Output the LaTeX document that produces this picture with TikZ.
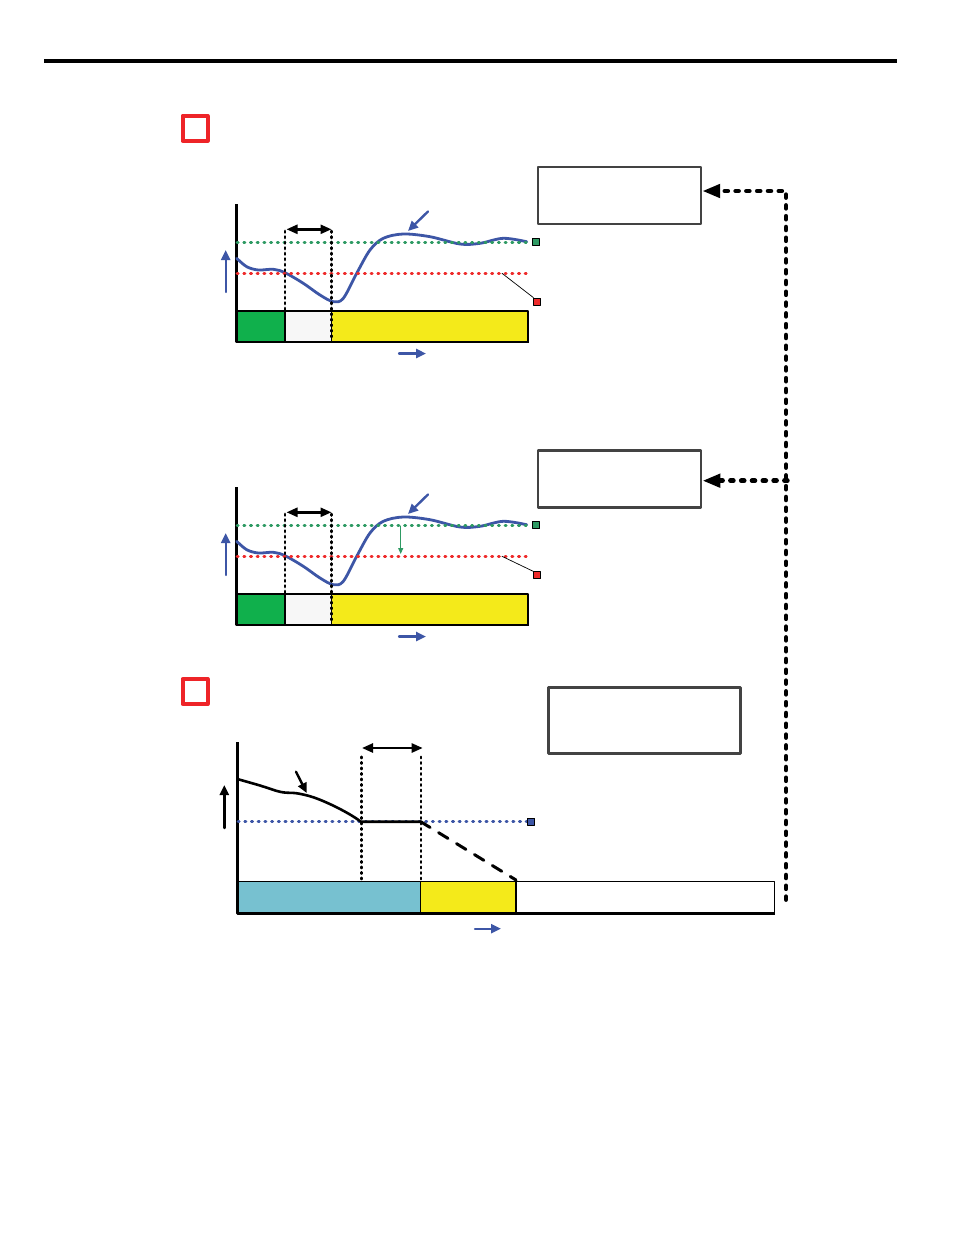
\documentclass[tikz,border=0pt]{standalone}
\usetikzlibrary{arrows.meta}
\definecolor{CurveBlue}{HTML}{3D56A6}
\definecolor{SetGreen}{HTML}{2E9A63}
\definecolor{LowRed}{HTML}{EE2B2B}
\definecolor{TagRed}{HTML}{EE2428}
\definecolor{BoxGray}{HTML}{434343}
\definecolor{BarGreen}{HTML}{10B04C}
\definecolor{BarYellow}{HTML}{F4EA1A}
\definecolor{BarCyan}{HTML}{77C1D0}
\definecolor{BarWhite}{HTML}{F7F7F7}

\begin{document}
\begin{tikzpicture}[x=1pt,y=-1pt,line cap=round,line join=round,
  infobox/.style={draw=BoxGray,line width=2.6pt,inner sep=0pt},
  redtag/.style={draw=TagRed,line width=4pt,minimum size=25pt,inner sep=0pt},
  marksq/.style={draw=black,line width=0.8pt,minimum size=7pt,inner sep=0pt},
  dotline/.style={line width=2.8pt,dash pattern=on 1.2pt off 5.5pt},
  guide/.style={line width=2.8pt,dash pattern=on 1.5pt off 4pt},
  feedback/.style={line width=4.8pt,dash pattern=on 2.8pt off 8pt},
  span/.style={line width=2.4pt,{Triangle[length=11pt,width=9pt]}-{Triangle[length=11pt,width=9pt]}},
  pointer/.style={line width=2.4pt,-{Triangle[length=10pt,width=9pt]}}]
  \useasboundingbox (0,0) rectangle (954,1235);
  \draw[line width=4pt,line cap=butt] (44,61) -- (897,61);
  \node[redtag] (tagA) at (195,128.2) {}; \node[redtag] (tagB) at (195,691.5) {};
  % boxes on the right and the feedback line
  \node[infobox,minimum width=163pt,minimum height=57pt] (box1) at (619.4,195.3) {};
  \node[infobox,minimum width=163pt,minimum height=57pt] (box2) at (619.6,478.7) {};
  \node[infobox,minimum width=192pt,minimum height=66pt] (box3) at (644.5,720.2) {};
  \coordinate (fbend) at (786,899.5); \coordinate (fbjoin) at (787.3,480.7);
  \draw[feedback,-{Triangle[length=18pt,width=13pt]}] (fbend) |- ([yshift=4.3pt]box1.east);
  \draw[feedback,-{Triangle[length=18pt,width=13pt]}] (fbjoin) -- ([yshift=-2pt]box2.east);
  % graphs 1 and 2
  \foreach \g/\dy/\lq in {1/0/301.5,2/283/292.3}{
  \begin{scope}[shift={(0,\dy)}]
    \fill[BarGreen] (237,311) rectangle (285,341.5); \fill[BarWhite] (285,311) rectangle (331.5,341.5); \fill[BarYellow] (331.5,311) rectangle (528,341.5);
    \draw[line width=1.3pt] (237,311) rectangle (528,341.5); \draw[line width=1.3pt] (285,311) -- (285,341.5) (331.5,311) -- (331.5,341.5);
    \draw[line width=2.8pt,line cap=butt] (236.5,204) -- (236.5,342) -- (528.5,342);
    \draw[CurveBlue,line width=2.8pt] plot[smooth,tension=.55] coordinates {(236.7,258.3) (246.7,266.7) (258.3,270) (273.3,269.3) (285,272.7) (303.3,283.3) (320,295) (333.3,301.7) (343.3,298.3) (356.7,273.3) (370,250) (383.3,238.3) (403.3,234) (430,236.7) (460,244) (480,243.3) (503.3,238.3) (526.7,241.7)};
    \draw[dotline,SetGreen] (237,242.3) -- (528,242.3); \draw[dotline,LowRed] (237,273.3) -- (527,273.3);
    \node[marksq,fill=SetGreen] (sp\g) at (536.3,242.3) {}; \node[marksq,fill=LowRed] (lo\g) at (537.3,\lq) {};
    \coordinate (lotap\g) at (502,273.3); \draw[line width=0.7pt] (lotap\g) -- (lo\g.north west);
    \draw[guide] (285,231) -- (285,340); \draw[guide] (331.5,231) -- (331.5,340);
    \coordinate (sa\g) at (286.5,229.3); \coordinate (sb\g) at (331.5,229.3); \draw[span] (sa\g) -- (sb\g);
    \draw[pointer,CurveBlue] (428,211.5) -- (408,231);
    \draw[pointer,CurveBlue] (225.7,292) -- (225.7,250); \draw[pointer,CurveBlue] (399,353.5) -- (426,353.5);
  \end{scope}}
  \draw[SetGreen,line width=1pt,-{Triangle[length=6pt,width=5pt]}] (400.7,526) -- (400.7,554);
  % graph 3
  \fill[BarCyan] (237.7,881.7) rectangle (420.7,913); \fill[BarYellow] (420.7,881.7) rectangle (516,913);
  \draw[line width=1.3pt] (237.7,881.7) rectangle (774.3,913); \draw[line width=1.3pt] (420.7,881.7) -- (420.7,913) (516,881.7) -- (516,913);
  \draw[line width=2.8pt,line cap=butt] (237.7,742) -- (237.7,913.5) -- (775,913.5);
  \draw[dotline,CurveBlue] (238,821.7) -- (527,821.7);
  \node[marksq,fill=CurveBlue] (lim) at (531,821.7) {};
  \draw[line width=2.6pt] plot[smooth,tension=.6] coordinates {(238.3,779.3) (260,785.5) (281,792) (297,793.3) (314,797.5) (333,805.5) (350,814.5) (361,821.7)} -- (420.7,821.7);
  \coordinate (cutA) at (420.7,821.7); \coordinate (cutB) at (516,880);
  \draw[line width=3pt,dash pattern=on 11pt off 10pt] (cutA) -- (cutB);
  \draw[guide,line width=2.4pt] (361.3,756.7) -- (361.3,881); \draw[guide,line width=2.4pt] (420.7,756.7) -- (420.7,881);
  \coordinate (sc) at (362,748); \coordinate (sd) at (422.7,748); \draw[span] (sc) -- (sd);
  \draw[pointer] (296,771.7) -- (306.7,793);
  \draw[pointer] (224.3,828) -- (224.3,785); \draw[pointer,CurveBlue] (475,928.7) -- (501,928.7);
\end{tikzpicture}
\end{document}
